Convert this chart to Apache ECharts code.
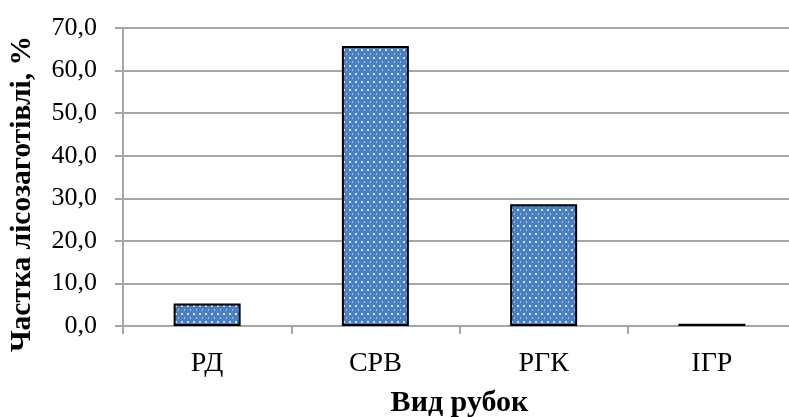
<!DOCTYPE html>
<html>
<head>
<meta charset="utf-8">
<script src="https://cdn.jsdelivr.net/npm/echarts@6/dist/echarts.min.js"></script>
<style>
  html, body { margin: 0; padding: 0; background: #fff; }
  #chart { width: 789px; height: 417px; }
</style>
</head>
<body>
<div id="chart"></div>
<script>
// Share of timber harvest by felling type
const categories = ['РД', 'СРВ', 'РГК', 'ІГР'];
const shares = [5.3, 65.8, 28.6, 0.5];
const yTicks = [0, 10, 20, 30, 40, 50, 60, 70];

// Dotted blue fill for the bars
function dotPattern() {
  const c = document.createElement('canvas');
  c.width = 6; c.height = 8;
  const g = c.getContext('2d');
  g.fillStyle = '#4a7fc1';
  g.fillRect(0, 0, 6, 8);
  g.fillStyle = 'rgba(235,242,252,0.85)';
  g.fillRect(1, 1, 2, 2);
  g.fillStyle = 'rgba(200,218,242,0.7)';
  g.fillRect(4, 5, 1, 2);
  return c;
}

const serif = '"Liberation Serif", "Times New Roman", serif';
const chart = echarts.init(document.getElementById('chart'), null, { renderer: 'canvas' });
chart.setOption({
  animation: false,
  grid: { left: 123, top: 28, width: 673, height: 298, containLabel: false, outerBoundsMode: 'none' },
  xAxis: {
    type: 'category',
    data: categories,
    name: 'Вид рубок',
    nameLocation: 'middle',
    nameGap: 62,
    nameTextStyle: { fontFamily: serif, fontSize: 30, fontWeight: 'bold', color: '#000' },
    axisLine: { show: true, lineStyle: { color: '#a6a6a6', width: 2 } },
    axisTick: { show: true, alignWithLabel: false, length: 8, lineStyle: { color: '#a6a6a6', width: 2 } },
    axisLabel: { fontFamily: serif, fontSize: 28, color: '#000', margin: 24 }
  },
  yAxis: {
    type: 'value',
    min: yTicks[0],
    max: yTicks[yTicks.length - 1],
    interval: 10,
    name: 'Частка лісозаготівлі, %',
    nameLocation: 'middle',
    nameGap: 86,
    nameTextStyle: { fontFamily: serif, fontSize: 29.5, fontWeight: 'bold', color: '#000', padding: [0, 34, 0, 0] },
    axisLine: { show: true, lineStyle: { color: '#a6a6a6', width: 2 } },
    axisTick: { show: true, length: 8, lineStyle: { color: '#a6a6a6', width: 2 } },
    splitLine: { show: true, lineStyle: { color: '#a6a6a6', width: 2 } },
    axisLabel: {
      fontFamily: serif, fontSize: 26, color: '#000', margin: 26,
      formatter: v => v.toFixed(1).replace('.', ',')
    }
  },
  series: [{
    type: 'bar',
    data: shares,
    barWidth: 67,
    itemStyle: {
      color: { image: dotPattern(), repeat: 'repeat' },
      borderColor: '#000',
      borderWidth: 2
    }
  }]
});
</script>
</body>
</html>
